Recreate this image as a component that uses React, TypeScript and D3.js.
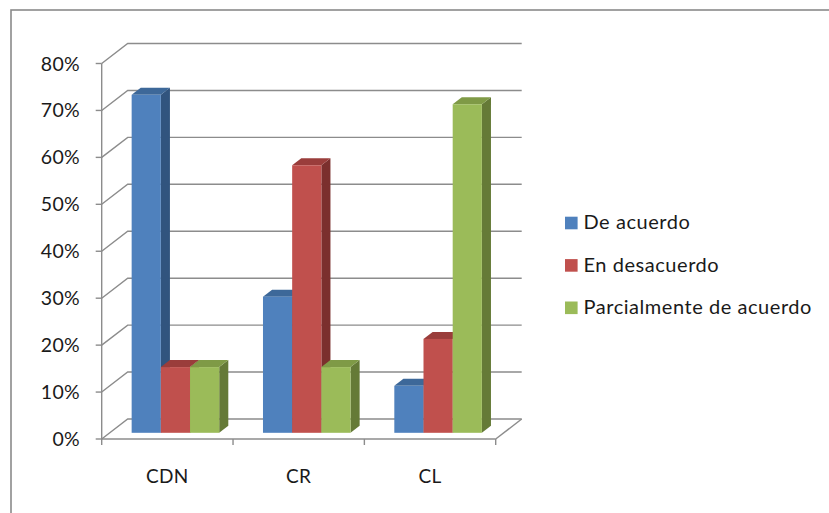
import React from "react";
import * as d3 from "d3";

// Categories, series and axis ticks
const categories = ["CDN", "CR", "CL"];
const seriesNames = ["De acuerdo", "En desacuerdo", "Parcialmente de acuerdo"];
const deAcuerdo = [0.72, 0.29, 0.1];
const enDesacuerdo = [0.14, 0.57, 0.2];
const parcialmente = [0.14, 0.14, 0.7];
const yTicks = [0, 0.1, 0.2, 0.3, 0.4, 0.5, 0.6, 0.7, 0.8];

const seriesValues = [deAcuerdo, enDesacuerdo, parcialmente];

// Face colours per series: front, top, side
const palette = [
  { front: "#4F81BD", top: "#3D6899", side: "#31547E" },
  { front: "#C0504D", top: "#9A3D3B", side: "#7B2F2D" },
  { front: "#9BBB59", top: "#7F9A46", side: "#657A37" },
];

const W = 829;
const H = 513;
const FONT = "Lato, 'Open Sans', sans-serif";
const GRID = "#8c8c8c";

// Projection of the 3D plot box
const X0 = 101.7;
const X1 = 495.7;
const DEPTH_X = 26;
const DEPTH_Y = -20;
const Z_FRONT = 0.31;
const Z_BACK = 0.66;

export default function App() {
  const x = d3.scaleBand<string>().domain(categories).range([X0, X1]);
  const xs = d3
    .scaleBand<number>()
    .domain(d3.range(seriesNames.length))
    .range([0, x.bandwidth()])
    .paddingInner(0)
    .paddingOuter(0.75);
  const y = d3.scaleLinear().domain([0, 0.8]).range([439, 63.5]);

  const proj = (px: number, v: number, z: number): [number, number] => [
    px + DEPTH_X * z,
    y(v) + DEPTH_Y * z,
  ];
  const pts = (arr: [number, number][]) => arr.map((p) => p.join(",")).join(" ");

  const bars: React.ReactNode[] = [];
  categories.forEach((cat, ci) => {
    seriesValues.forEach((vals, si) => {
      const v = vals[ci];
      const bx = (x(cat) as number) + (xs(si) as number);
      const w = xs.bandwidth();
      const c = palette[si];
      const side = [
        proj(bx + w, 0, Z_FRONT),
        proj(bx + w, v, Z_FRONT),
        proj(bx + w, v, Z_BACK),
        proj(bx + w, 0, Z_BACK),
      ];
      const top = [
        proj(bx, v, Z_FRONT),
        proj(bx + w, v, Z_FRONT),
        proj(bx + w, v, Z_BACK),
        proj(bx, v, Z_BACK),
      ];
      const [fx, fy] = proj(bx, v, Z_FRONT);
      const [, fb] = proj(bx, 0, Z_FRONT);
      bars.push(
        <g key={`${cat}-${si}`}>
          <polygon points={pts(side)} fill={c.side} />
          <polygon points={pts(top)} fill={c.top} />
          <rect x={fx} y={fy} width={w} height={fb - fy} fill={c.front} />
        </g>
      );
    });
  });

  const [fl0x, fl0y] = proj(X0, 0, 0);
  const [fr0x, fr0y] = proj(X1, 0, 0);
  const [br0x, br0y] = proj(X1, 0, 1);
  const tickX = [...categories.map((c) => x(c) as number), X1];

  return (
    <svg
      width={W}
      height={H}
      style={{ position: "absolute", left: 0, top: 0, background: "#ffffff" }}
      fontFamily={FONT}
    >
      <rect x={0} y={0} width={W} height={H} fill="#ffffff" />
      {/* outer chart frame */}
      <rect x={11} y={10} width={W + 40} height={H + 40} fill="none" stroke="#8a8a8a" strokeWidth={1.6} />

      {/* walls: gridlines on the back wall and side wall */}
      <g stroke={GRID} strokeWidth={1.4} fill="none">
        {yTicks.map((t) => {
          const a = proj(X0, t, 0);
          const b = proj(X0, t, 1);
          const c = proj(X1, t, 1);
          return <polyline key={t} points={pts([a, b, c])} />;
        })}
        {/* floor */}
        <line x1={fl0x} y1={fl0y} x2={fr0x} y2={fr0y} />
        <line x1={fr0x} y1={fr0y} x2={br0x} y2={br0y} />
        {/* vertical axis */}
        <line x1={X0} y1={y(0.8)} x2={X0} y2={y(0)} />
        {yTicks.map((t) => (
          <line key={`yt${t}`} x1={X0 - 6} y1={y(t)} x2={X0} y2={y(t)} />
        ))}
        {tickX.map((tx, i) => (
          <line key={`xt${i}`} x1={tx} y1={y(0)} x2={tx} y2={y(0) + 6} />
        ))}
      </g>

      {bars}

      {/* y axis labels */}
      <g fontSize={19.5} fill="#1a1a1a" textAnchor="end" letterSpacing={0.3}>
        {yTicks.map((t) => (
          <text key={`yl${t}`} x={80} y={y(t) + 7}>
            {d3.format(".0%")(t)}
          </text>
        ))}
      </g>

      {/* category labels */}
      <g fontSize={19} fill="#1a1a1a" textAnchor="middle" letterSpacing={0.3}>
        {categories.map((c) => (
          <text key={c} x={(x(c) as number) + x.bandwidth() / 2} y={483.3}>
            {c}
          </text>
        ))}
      </g>

      {/* legend */}
      <g fontSize={20} fill="#1a1a1a" letterSpacing={0.55}>
        {seriesNames.map((name, i) => (
          <g key={name} transform={`translate(565, ${229.3 + i * 42.4})`}>
            <rect x={0} y={-12.6} width={12.6} height={12.6} fill={palette[i].front} />
            <text x={18.5} y={0}>
              {name}
            </text>
          </g>
        ))}
      </g>
    </svg>
  );
}
